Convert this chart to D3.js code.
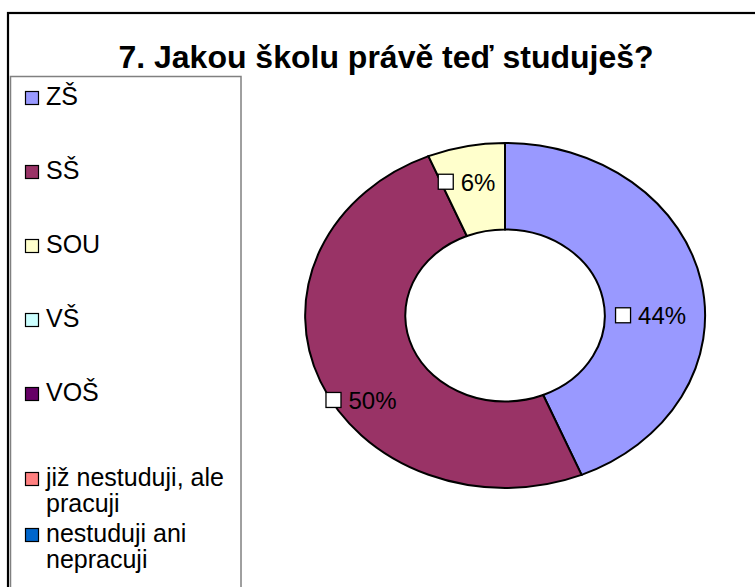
<!DOCTYPE html>
<html>
<head>
<meta charset="utf-8">
<script src="https://cdn.jsdelivr.net/npm/d3@7"></script>
<style>
  body { margin: 0; background: #fff; }
  text { font-family: "Liberation Sans", Arial, sans-serif; }
</style>
</head>
<body>
<svg></svg>
<script>
// chart data
const title = "7. Jakou školu právě teď studuješ?";
const categories = ["ZŠ", "SŠ", "SOU", "VŠ", "VOŠ", "již nestuduji, ale pracuji", "nestuduji ani nepracuji"];
const counts = [7, 8, 1, 0, 0, 0, 0];
const colors = ["#9999FF", "#993366", "#FFFFCC", "#CCFFFF", "#660066", "#FF8080", "#0066CC"];

let width = 755;
let height = 587;
// the ring in the original is wider than tall
let stretch = 1.16;

let svg = d3.select("svg")
  .attr("width", width)
  .attr("height", height);

// outer frame
svg.append("rect")
  .attr("x", 8).attr("y", 13)
  .attr("width", width + 20).attr("height", height + 20)
  .attr("fill", "#fff")
  .attr("stroke", "#000")
  .attr("stroke-width", 2.2);

// title
svg.append("text")
  .attr("x", 386).attr("y", 68)
  .attr("text-anchor", "middle")
  .style("font-size", "32px")
  .style("font-weight", "bold")
  .text(title);

// legend box
svg.append("rect")
  .attr("x", 10.5).attr("y", 76.5)
  .attr("width", 230.5).attr("height", height)
  .attr("fill", "#fff")
  .attr("stroke", "#808080")
  .attr("stroke-width", 1.5);

// wrap legend names so they fit the box
let wrap = (name) => {
  let words = name.split(" ");
  let lines = [];
  let cur = "";
  words.forEach(w => {
    let test = cur ? cur + " " + w : w;
    if (test.length > 18 && cur) { lines.push(cur); cur = w; }
    else cur = test;
  });
  lines.push(cur);
  return lines;
};

// baseline of first line of every entry
let legendY = (i) => i <= 4 ? 105 + 74 * i : 486 + 56 * (i - 5);
let lineH = 26;

let legend = svg.append("g").attr("class", "legend");
let item = legend.selectAll("g")
  .data(categories)
  .enter()
  .append("g")
  .attr("transform", (d, i) => "translate(0," + legendY(i) + ")");

item.append("rect")
  .attr("x", 25.5).attr("y", -13.5)
  .attr("width", 13).attr("height", 13)
  .attr("fill", (d, i) => colors[i])
  .attr("stroke", "#000")
  .attr("stroke-width", 1.2);

item.each(function(d) {
  let t = d3.select(this).append("text")
    .attr("x", 46).attr("y", 0)
    .style("font-size", "25px");
  wrap(d).forEach((line, k) => {
    t.append("tspan").attr("x", 46).attr("dy", k ? lineH : 0).text(line);
  });
});

// donut
let cx = 505, cy = 315.5;
let outerR = 172.5, innerR = 86;
let total = d3.sum(counts);

let pie = d3.pie().sort(null).value(d => d)(counts);
let arc = d3.arc().innerRadius(innerR).outerRadius(outerR);
let labelArc = d3.arc().innerRadius((innerR + outerR) / 2).outerRadius((innerR + outerR) / 2);

let donut = svg.append("g")
  .attr("transform", "translate(" + cx + "," + cy + ") scale(" + stretch + ",1)");

donut.selectAll("path")
  .data(pie.filter(p => p.value > 0))
  .enter()
  .append("path")
  .attr("d", arc)
  .attr("fill", p => colors[p.index])
  .attr("stroke", "#000")
  .attr("stroke-width", 2)
  .attr("vector-effect", "non-scaling-stroke");

// excel moved a few labels off the centroid
const labelShift = { 0: [0, 25], 1: [-4, 35], 2: [-1, -7] };

let labels = svg.append("g")
  .selectAll("g")
  .data(pie.filter(p => p.value > 0))
  .enter()
  .append("g")
  .attr("transform", p => {
    let c = labelArc.centroid(p);
    let s = labelShift[p.index] || [0, 0];
    return "translate(" + (cx + c[0] * stretch + s[0]) + "," + (cy + c[1] + s[1]) + ")";
  });

labels.append("rect")
  .attr("x", -36.5).attr("y", -7.5)
  .attr("width", 15).attr("height", 15)
  .attr("fill", "#fff")
  .attr("stroke", "#000")
  .attr("stroke-width", 1.3);

labels.append("text")
  .attr("x", -14).attr("y", 9)
  .style("font-size", "24px")
  .text(p => Math.round(p.value / total * 100) + "%");
</script>
</body>
</html>
